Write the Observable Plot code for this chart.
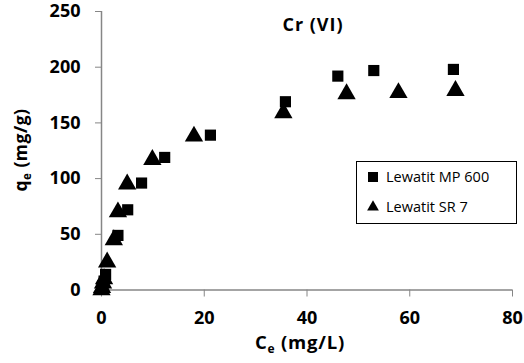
<!DOCTYPE html>
<html>
<head>
<meta charset="utf-8">
<script src="https://cdn.jsdelivr.net/npm/d3@7"></script>
<script src="https://cdn.jsdelivr.net/npm/@observablehq/plot@0.6"></script>
<style>
  html, body { margin: 0; padding: 0; background: #fff; }
  #chart { position: relative; width: 524px; height: 363px; }
  svg { font-family: "Open Sans", sans-serif; }
</style>
</head>
<body>
<div id="chart"></div>
<script>
// Lewatit MP 600 (squares)
const mpCe = [0.1, 0.3, 0.5, 0.8, 3.2, 5.1, 7.8, 12.3, 21.2, 35.8, 46.0, 53.0, 68.5];
const mpQe = [1, 4, 8, 14, 49, 72, 96, 119, 139, 169, 192, 197, 198];
// Lewatit SR 7 (triangles)
const srCe = [0.0, 0.1, 0.3, 0.5, 1.1, 2.4, 3.2, 5.0, 9.9, 18.0, 35.4, 47.7, 57.8, 68.9];
const srQe = [0, 2, 6, 10, 25, 45, 70, 95, 117, 138, 159, 176, 177, 179];
const xTicks = [0, 20, 40, 60, 80];
const yTicks = [0, 50, 100, 150, 200, 250];
const seriesNames = ["Lewatit MP 600", "Lewatit SR 7"];
const title = "Cr (VI)";

const mp = mpCe.map((c, i) => ({ce: c, qe: mpQe[i]}));
const sr = srCe.map((c, i) => ({ce: c, qe: srQe[i]}));

const axisColor = "#868686";
const plot = Plot.plot({
  width: 524,
  height: 363,
  marginLeft: 101,
  marginRight: 12,
  marginTop: 11,
  marginBottom: 73.5,
  style: {fontFamily: "Open Sans, sans-serif", background: "#fff", overflow: "visible"},
  x: {domain: [0, 80], ticks: xTicks},
  y: {domain: [0, 250], ticks: yTicks},
  marks: [
    Plot.axisX({ticks: xTicks, tickSize: 7, tickPadding: 14, stroke: axisColor, label: null,
      fontSize: 18, fontWeight: "bold", fill: "#000", tickFormat: d => String(d)}),
    Plot.axisY({ticks: yTicks, tickSize: 6, tickPadding: 15, stroke: axisColor, label: null,
      fontSize: 18, fontWeight: "bold", fill: "#000", tickFormat: d => String(d)}),
    Plot.ruleY([0], {stroke: axisColor, strokeWidth: 1.5}),
    Plot.ruleX([0], {stroke: axisColor, strokeWidth: 1.5}),
    Plot.dot(mp, {x: "ce", y: "qe", symbol: "square", r: 6.3, fill: "#000", stroke: "none"}),
    Plot.dot(sr, {x: "ce", y: "qe", symbol: "triangle", r: 6.8, fill: "#000", stroke: "none"})
  ]
});
document.getElementById("chart").appendChild(plot);

const svg = d3.select(plot);
// title
svg.append("text").attr("x", 313).attr("y", 31).attr("text-anchor", "middle")
  .attr("font-size", 18).attr("font-weight", "bold").attr("letter-spacing", 1).text(title);

// x axis label
const xl = svg.append("text").attr("x", 300).attr("y", 349).attr("text-anchor", "middle")
  .attr("font-size", 18.5).attr("font-weight", "bold").attr("letter-spacing", 0.8);
xl.append("tspan").text("C");
xl.append("tspan").attr("font-size", 12).attr("dy", 4).text("e");
xl.append("tspan").attr("dy", -4).text(" (mg/L)");

// y axis label
const yl = svg.append("text").attr("transform", "translate(27,150) rotate(-90)").attr("text-anchor", "middle")
  .attr("font-size", 17.5).attr("font-weight", "bold").attr("letter-spacing", 0.5);
yl.append("tspan").text("q");
yl.append("tspan").attr("font-size", 11.5).attr("dy", 4).text("e");
yl.append("tspan").attr("dy", -4).text(" (mg/g)");

// legend
const lg = svg.append("g").attr("text-anchor", "start");
lg.append("rect").attr("x", 356.5).attr("y", 161.5).attr("width", 160).attr("height", 62)
  .attr("fill", "#fff").attr("stroke", "#000").attr("stroke-width", 1);
lg.append("path").attr("transform", "translate(373,177)")
  .attr("d", d3.symbol(d3.symbolSquare, 100)()).attr("fill", "#000");
lg.append("path").attr("transform", "translate(373,207)")
  .attr("d", d3.symbol(d3.symbolTriangle, 60)()).attr("fill", "#000");
lg.append("text").attr("x", 386).attr("y", 182).attr("font-size", 14.5).text(seriesNames[0]);
lg.append("text").attr("x", 386).attr("y", 212).attr("font-size", 14.5).text(seriesNames[1]);
</script>
</body>
</html>
